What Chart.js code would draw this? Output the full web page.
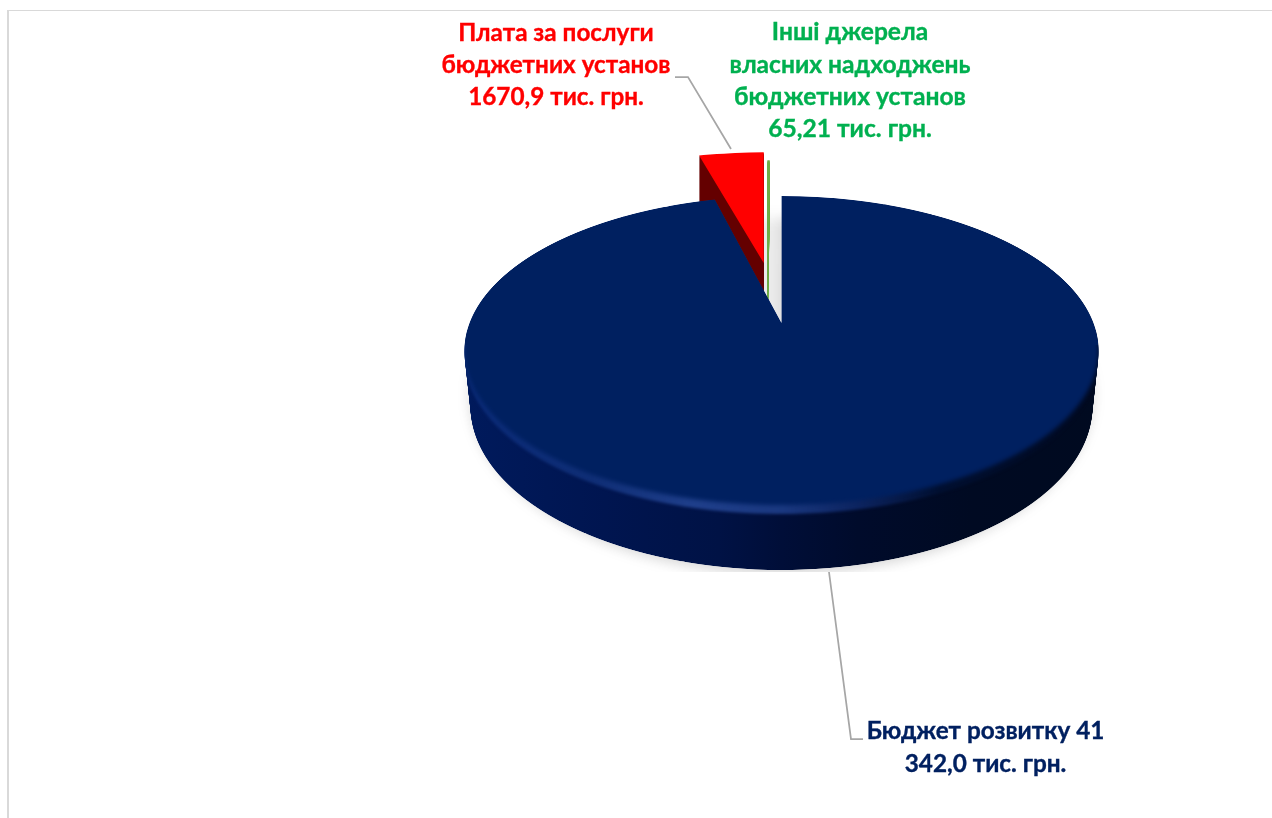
<!DOCTYPE html>
<html>
<head>
<meta charset="utf-8">
<style>html,body{margin:0;padding:0;background:#fff;overflow:hidden}canvas{display:block}</style>
<script src="https://cdn.jsdelivr.net/npm/chart.js@4"></script>
</head>
<body>
<canvas id="c" width="1272" height="818"></canvas>
<script>
const categories = ['Бюджет розвитку', 'Плата за послуги бюджетних установ', 'Інші джерела власних надходжень бюджетних установ'];
const values = [41342.0, 1670.9, 65.21];
const sliceColors = ['#002060', '#ff0000', '#70ad47'];
const labelLines = [
  ['Бюджет розвитку 41', '342,0 тис. грн.'],
  ['Плата за послуги', 'бюджетних установ', '1670,9 тис. грн.'],
  ['Інші джерела', 'власних надходжень', 'бюджетних установ', '65,21 тис. грн.']
];
const labelColors = ['#002060', '#ff0000', '#00b050'];
const labelPos = [[985.5, 731, 33], [556, 33, 32], [850, 32.5, 32.2]];
const labelSize = [24.3, 24.3, 24.6];
const leaders = [
  [[829, 572], [851, 739], [863, 739]],
  [[675, 77], [688, 77], [731, 149]]
];
const explode = [0, 0.435, 0.35];
const shiftX = [0, 0, -0.045];

const W = 1272, H = 818;
const topPlane = { cx: 781.5, y0: 323, m: 149.6, p: 0.178, k: 312 };
const botPlane = { cx: 781.5, y0: 373, m: 155.9, p: 0.2086, k: 304 };
const shadowPlane = { cx: 781.5, y0: 373, m: 175.6, p: 0.11, k: 309 };
const redTop = { cx: 781.5, y0: 323, m: 149.6, p: 0.178, k: 335 };
const redBot = { cx: 781.5, y0: 375, m: 149.6, p: 0.178, k: 335 };
const greenBot = { cx: 781.5, y0: 373, m: 149.6, p: 0.178, k: 312 };

const mix = (A, B, t) => {
  const o = {};
  for (const key in A) o[key] = B[key] + (A[key] - B[key]) * t;
  return o;
};
function newLayer() {
  const cv = document.createElement('canvas');
  cv.width = W; cv.height = H;
  return cv;
}
function projectArc(ctx, arc, P, ex, ey, yMin) {
  const R = arc.outerRadius;
  const yAt = (s) => P.y0 + P.m * s / (1 - P.p * s);
  const r0 = Math.max(Math.floor(yAt(-1 + ey)) - 1, yMin || 0);
  const r1 = Math.min(Math.ceil(yAt(1 + ey)) + 1, H);
  for (let yd = r0; yd < r1; yd++) {
    const yc = yd + 0.5, u = yc - P.y0;
    const s = u / (P.m + u * P.p);
    const w = 1 - P.p * s;
    const a = P.k / (w * R), d = P.m / (w * w * R);
    ctx.save();
    ctx.beginPath(); ctx.rect(0, yd, W, 1); ctx.clip();
    ctx.setTransform(a, 0, 0, d,
      P.cx + P.k * ex / w - a * arc.x,
      yc + (P.m / (w * w)) * (ey - s) - d * arc.y);
    arc.draw(ctx);
    ctx.restore();
  }
}
function explosion(arc, i) {
  const mid = (arc.startAngle + arc.endAngle) / 2;
  return [Math.cos(mid) * explode[i] + shiftX[i], Math.sin(mid) * explode[i]];
}
function sweep(arc, i, A, B, t0, t1, levels, yMin) {
  const cv = newLayer(), lc = cv.getContext('2d');
  const [ex, ey] = explosion(arc, i);
  for (let n = 0; n < levels; n++) {
    projectArc(lc, arc, mix(A, B, t0 + (t1 - t0) * n / levels), ex, ey, yMin);
  }
  return cv;
}
function colorize(cv, fill) {
  const lc = cv.getContext('2d');
  lc.globalCompositeOperation = 'source-in';
  lc.fillStyle = fill;
  lc.fillRect(0, 0, W, H);
  lc.globalCompositeOperation = 'source-over';
  return cv;
}
function hGradient(ctx, stops) {
  const g = ctx.createLinearGradient(465, 0, 1099, 0);
  stops.forEach(([o, c]) => g.addColorStop(o, c));
  return g;
}
function clipped(ctx, y0, y1, fn) {
  ctx.save();
  ctx.beginPath(); ctx.rect(0, y0, W, y1 - y0); ctx.clip();
  fn();
  ctx.restore();
}

const pie3d = {
  id: 'pie3d',
  beforeDatasetsDraw(chart) {
    const ctx = chart.ctx;
    const arcs = chart.getDatasetMeta(0).data;

    ctx.fillStyle = '#d9d9d9';
    ctx.fillRect(8, 10, W - 8, 1);
    ctx.fillRect(7, 10, 2, H - 10);

    // soft ground shadow, cut off just below the disc
    const shAll = newLayer(), shOne = newLayer();
    arcs.forEach((arc) => projectArc(shAll.getContext('2d'), arc, shadowPlane, 0, 0));
    projectArc(shOne.getContext('2d'), arcs[0], shadowPlane, 0, 0);
    colorize(shAll, '#000');
    colorize(shOne, '#000');
    clipped(ctx, 0, 572, () => {
      ctx.filter = 'blur(7px)';
      ctx.globalAlpha = 0.08;
      ctx.drawImage(shAll, 0, 3);
      ctx.globalAlpha = 0.1;
      ctx.drawImage(shOne, 0, 3);
    });

    // exploded red slice: wall, then face
    ctx.drawImage(colorize(sweep(arcs[1], 1, redTop, redBot, 0, 1, 52, 0), '#640000'), 0, 0);
    const [rx, ry] = explosion(arcs[1], 1);
    projectArc(ctx, arcs[1], redTop, rx, ry);

    // exploded green sliver
    ctx.drawImage(sweep(arcs[2], 2, topPlane, greenBot, 0, 1, 50, 0), 0, 0);
    const [gx, gy] = explosion(arcs[2], 2);
    projectArc(ctx, arcs[2], topPlane, gx, gy);

    // navy disc composed on its own layer
    const disc = newLayer(), dc = disc.getContext('2d');
    const wall = sweep(arcs[0], 0, topPlane, botPlane, 0, 0.9, 66, 330);
    dc.drawImage(colorize(wall, hGradient(dc, [
      [0, '#001a5c'], [0.22, '#001550'], [0.4, '#001245'], [0.5, '#000e38'],
      [0.62, '#000b2b'], [0.8, '#000a22'], [1, '#000a20']
    ])), 0, 0);

    const rimStops = [
      [0, '#0a2b78'], [0.2, '#0f2e76'], [0.36, '#1f3f8b'], [0.5, '#1a3880'],
      [0.62, '#0c2460'], [0.75, '#000f30'], [1, '#000a22']
    ];
    const rim = colorize(sweep(arcs[0], 0, topPlane, botPlane, 0.86, 1, 10, 330), hGradient(dc, rimStops));
    dc.save(); dc.filter = 'blur(1.5px)'; dc.drawImage(rim, 0, 0); dc.restore();

    const face = newLayer();
    projectArc(face.getContext('2d'), arcs[0], topPlane, 0, 0);
    const under = newLayer();
    projectArc(under.getContext('2d'), arcs[0], topPlane, 0, 0);
    dc.drawImage(colorize(under, hGradient(dc, rimStops)), 0, 0);
    clipped(dc, 0, 345, () => dc.drawImage(face, 0, 0));
    clipped(dc, 345, H, () => { dc.filter = 'blur(2.2px)'; dc.drawImage(face, 0, 0); });

    // crisp outline of the disc
    const mask = sweep(arcs[0], 0, topPlane, botPlane, 0, 1, 66, 330);
    const mc = mask.getContext('2d');
    projectArc(mc, arcs[0], topPlane, 0, 0);
    dc.globalCompositeOperation = 'destination-in';
    dc.drawImage(mask, 0, 0);
    dc.globalCompositeOperation = 'source-over';
    ctx.drawImage(disc, 0, 0);

    // leader lines
    ctx.strokeStyle = '#a6a6a6';
    ctx.lineWidth = 1.75;
    leaders.forEach((pts) => {
      ctx.beginPath();
      pts.forEach(([x, y], n) => n ? ctx.lineTo(x, y) : ctx.moveTo(x, y));
      ctx.stroke();
    });

    // labels
    ctx.textAlign = 'center';
    ctx.textBaseline = 'middle';
    ctx.lineWidth = 0.35;
    labelLines.forEach((lines, i) => {
      const [x, y, step] = labelPos[i];
      ctx.font = 'bold ' + labelSize[i] + 'px Lato, "Open Sans", sans-serif';
      ctx.fillStyle = labelColors[i];
      ctx.strokeStyle = labelColors[i];
      lines.forEach((t, n) => {
        ctx.fillText(t, x, y + n * step);
        ctx.strokeText(t, x, y + n * step);
      });
    });
    return false;
  }
};

new Chart(document.getElementById('c'), {
  type: 'pie',
  data: {
    labels: categories,
    datasets: [{ data: values, backgroundColor: sliceColors, borderWidth: 0 }]
  },
  options: {
    responsive: false,
    devicePixelRatio: 1,
    animation: false,
    plugins: { legend: { display: false }, tooltip: { enabled: false } }
  },
  plugins: [pie3d]
});
</script>
</body>
</html>
